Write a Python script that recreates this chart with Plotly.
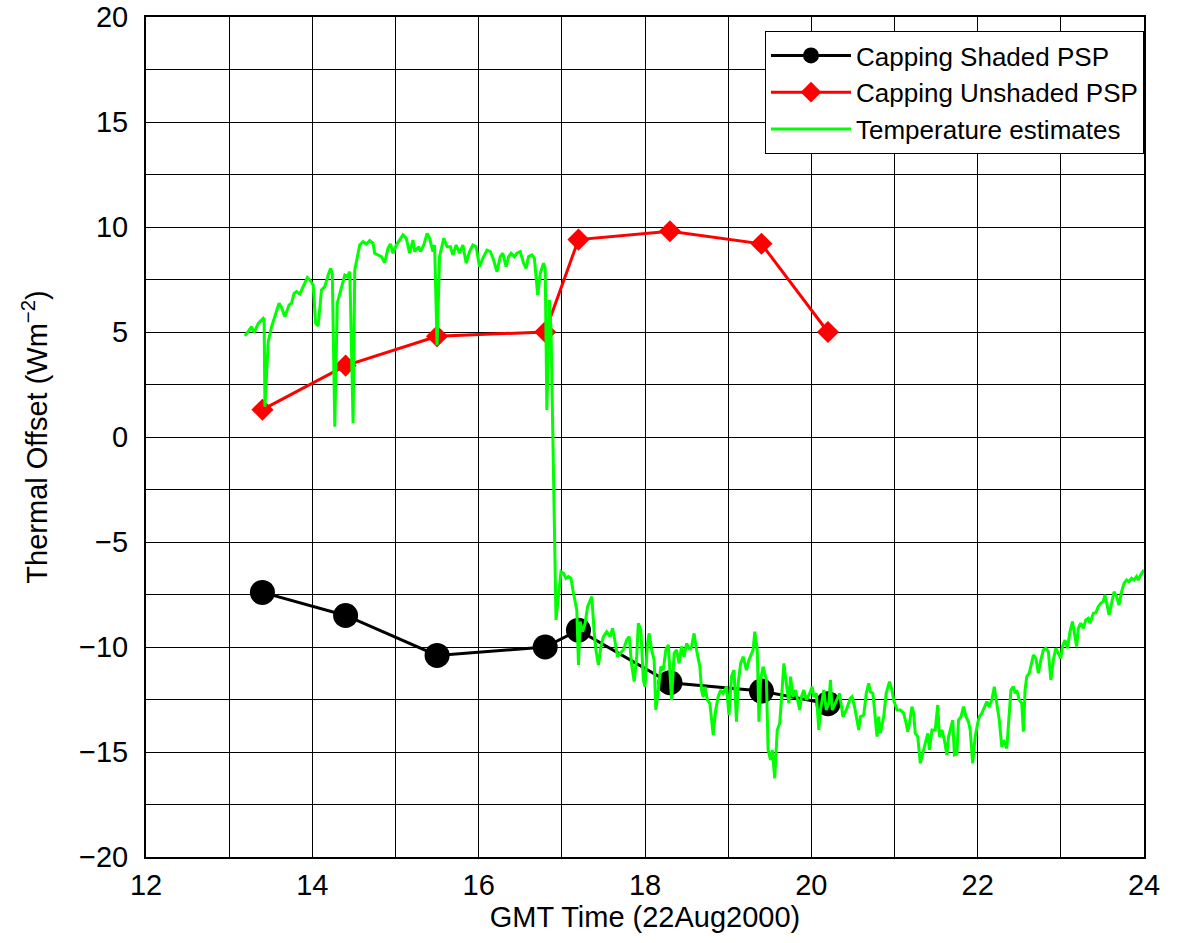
import plotly.graph_objects as go

# Capping events (GMT hours) and the thermal offsets derived at each
cap_time = [13.4, 14.4, 15.5, 16.8, 17.2, 18.3, 19.4, 20.2]
shaded_offset = [-7.4, -8.5, -10.4, -10.0, -9.2, -11.7, -12.1, -12.7]
unshaded_offset = [1.3, 3.4, 4.8, 5.0, 9.4, 9.8, 9.2, 5.0]

# Continuous offset estimated from instrument temperatures
temp_time = [
    13.19, 13.27, 13.30, 13.35, 13.41, 13.42, 13.43, 13.47, 13.51, 13.55,
    13.60, 13.63, 13.67, 13.72, 13.75, 13.78, 13.81, 13.85, 13.89, 13.94,
    13.97, 14.01, 14.04, 14.07, 14.11, 14.15, 14.19, 14.22, 14.24, 14.27,
    14.30, 14.35, 14.39, 14.42, 14.45, 14.46, 14.49, 14.51, 14.57, 14.61,
    14.65, 14.69, 14.73, 14.75, 14.79, 14.83, 14.87, 14.91, 14.94, 14.97,
    15.01, 15.05, 15.09, 15.13, 15.17, 15.21, 15.23, 15.28, 15.30, 15.34,
    15.38, 15.41, 15.45, 15.47, 15.50, 15.53, 15.58, 15.62, 15.66, 15.69,
    15.73, 15.77, 15.81, 15.85, 15.89, 15.93, 15.97, 16.01, 16.05, 16.10,
    16.14, 16.18, 16.22, 16.26, 16.29, 16.33, 16.36, 16.39, 16.43, 16.46,
    16.50, 16.54, 16.57, 16.60, 16.64, 16.67, 16.71, 16.74, 16.78, 16.80,
    16.82, 16.85, 16.87, 16.93, 16.99, 17.02, 17.05, 17.08, 17.11, 17.14,
    17.18, 17.20, 17.22, 17.25, 17.28, 17.31, 17.36, 17.39, 17.41, 17.44,
    17.47, 17.50, 17.54, 17.58, 17.61, 17.64, 17.67, 17.70, 17.74, 17.78,
    17.81, 17.84, 17.87, 17.90, 17.92, 17.95, 17.98, 18.00, 18.03, 18.05,
    18.08, 18.11, 18.13, 18.16, 18.19, 18.22, 18.25, 18.28, 18.30, 18.32,
    18.35, 18.38, 18.41, 18.44, 18.47, 18.50, 18.54, 18.56, 18.59, 18.62,
    18.66, 18.68, 18.70, 18.72, 18.75, 18.78, 18.82, 18.85, 18.88, 18.91,
    18.94, 18.98, 19.01, 19.04, 19.07, 19.10, 19.12, 19.15, 19.18, 19.22,
    19.25, 19.30, 19.32, 19.35, 19.37, 19.39, 19.42, 19.46, 19.48, 19.51,
    19.53, 19.56, 19.59, 19.62, 19.64, 19.67, 19.70, 19.73, 19.75, 19.78,
    19.81, 19.83, 19.86, 19.88, 19.91, 19.94, 19.98, 20.01, 20.03, 20.06,
    20.09, 20.11, 20.15, 20.18, 20.21, 20.23, 20.25, 20.27, 20.31, 20.34,
    20.38, 20.42, 20.47, 20.49, 20.52, 20.55, 20.57, 20.59, 20.63, 20.66,
    20.69, 20.71, 20.74, 20.76, 20.79, 20.81, 20.83, 20.87, 20.90, 20.94,
    20.97, 20.99, 21.03, 21.07, 21.11, 21.14, 21.16, 21.18, 21.21, 21.23,
    21.25, 21.28, 21.31, 21.34, 21.37, 21.40, 21.42, 21.45, 21.49, 21.52,
    21.54, 21.57, 21.60, 21.63, 21.65, 21.67, 21.70, 21.72, 21.75, 21.77,
    21.80, 21.83, 21.86, 21.89, 21.91, 21.94, 21.97, 22.00, 22.02, 22.05,
    22.08, 22.11, 22.14, 22.17, 22.20, 22.23, 22.26, 22.29, 22.31, 22.35,
    22.38, 22.40, 22.43, 22.45, 22.47, 22.50, 22.53, 22.55, 22.57, 22.59,
    22.62, 22.65, 22.67, 22.70, 22.73, 22.76, 22.79, 22.82, 22.85, 22.88,
    22.91, 22.94, 22.97, 23.00, 23.02, 23.05, 23.08, 23.11, 23.14, 23.17,
    23.19, 23.21, 23.24, 23.27, 23.30, 23.33, 23.35, 23.39, 23.42, 23.45,
    23.48, 23.51, 23.53, 23.56, 23.58, 23.61, 23.64, 23.67, 23.70, 23.73,
    23.76, 23.79, 23.82, 23.85, 23.88, 23.91, 23.93, 23.96, 23.98, 24.00,
]
temp_offset = [
    4.81, 5.25, 4.97, 5.41, 5.65, 5.60, 1.44, 4.54, 5.25, 5.73,
    6.37, 6.17, 5.73, 6.29, 6.37, 6.84, 6.92, 6.81, 7.16, 7.59,
    7.48, 7.24, 5.41, 5.29, 7.00, 7.16, 7.71, 8.03, 7.79, 0.49,
    6.37, 7.16, 7.71, 7.63, 7.87, 6.21, 0.65, 7.95, 9.14, 9.30,
    9.19, 9.35, 9.22, 8.75, 8.67, 8.59, 8.30, 8.98, 9.19, 8.75,
    9.14, 9.38, 9.62, 9.46, 8.75, 9.38, 8.83, 9.06, 8.83, 9.14,
    9.70, 9.46, 8.83, 9.14, 4.38, 8.59, 9.46, 9.06, 9.06, 8.67,
    9.14, 8.75, 9.14, 8.27, 8.83, 9.14, 9.06, 8.11, 8.51, 8.90,
    8.83, 8.43, 7.87, 8.59, 8.75, 8.11, 8.59, 8.75, 8.59, 8.75,
    8.83, 8.27, 8.03, 8.59, 8.67, 8.51, 6.76, 7.79, 8.27, 8.03,
    1.29, 6.52, 5.10, -8.71, -6.41, -6.49, -6.73, -6.65, -6.73, -7.44,
    -8.24, -10.86, -8.79, -9.27, -8.87, -8.08, -7.60, -9.35, -10.14, -10.86,
    -9.98, -9.51, -9.27, -9.51, -9.11, -9.75, -10.46, -10.30, -10.14, -9.67,
    -9.51, -10.86, -11.65, -10.46, -8.87, -9.19, -11.57, -11.89, -9.83, -9.35,
    -10.14, -10.62, -13.00, -12.05, -10.94, -11.10, -10.14, -9.90, -11.25, -12.52,
    -10.30, -10.14, -10.78, -9.98, -10.46, -9.83, -10.14, -9.98, -9.35, -10.14,
    -10.94, -12.05, -12.37, -11.89, -12.52, -12.68, -14.19, -13.00, -12.37, -12.05,
    -12.21, -11.89, -13.24, -11.41, -11.10, -13.56, -11.73, -10.78, -10.46, -11.10,
    -10.62, -10.14, -9.27, -10.14, -13.56, -11.57, -10.94, -11.57, -14.90, -15.38,
    -14.90, -16.25, -13.95, -13.63, -12.52, -10.78, -11.73, -12.68, -11.41, -12.37,
    -12.05, -12.37, -13.00, -12.37, -12.05, -12.52, -12.21, -11.89, -12.37, -12.21,
    -13.95, -13.00, -12.05, -13.00, -12.68, -11.57, -13.00, -12.84, -12.52, -12.21,
    -13.32, -13.00, -12.44, -12.37, -12.84, -13.48, -13.95, -13.32, -13.24, -12.21,
    -11.73, -12.13, -12.21, -13.00, -14.27, -13.32, -14.11, -13.32, -12.21, -11.65,
    -12.05, -12.52, -13.00, -13.00, -13.16, -13.63, -14.03, -13.63, -12.84, -13.16,
    -14.11, -14.27, -15.54, -15.06, -14.51, -14.11, -14.90, -13.95, -13.95, -12.76,
    -14.27, -13.95, -14.43, -15.14, -14.27, -13.95, -13.48, -15.14, -15.10, -13.48,
    -13.32, -12.84, -13.32, -13.56, -13.95, -15.54, -14.27, -13.63, -13.32, -13.16,
    -12.84, -12.60, -12.84, -12.52, -11.89, -12.68, -13.48, -14.75, -14.43, -14.83,
    -13.32, -12.05, -11.89, -12.21, -12.05, -12.52, -12.68, -14.03, -12.05, -11.41,
    -11.25, -10.78, -10.38, -10.54, -11.25, -10.62, -10.14, -10.06, -10.22, -11.57,
    -10.62, -10.06, -10.30, -10.54, -9.98, -9.67, -10.06, -9.27, -8.79, -9.51,
    -9.98, -9.11, -8.87, -9.11, -8.71, -8.63, -8.87, -8.40, -8.37, -8.08,
    -7.92, -7.84, -7.52, -8.08, -8.48, -7.92, -7.37, -7.60, -8.00, -7.37,
    -6.97, -6.81, -6.89, -6.73, -6.81, -6.65, -6.81, -6.57, -6.41, -6.33,
]

x_ticks = [12, 14, 16, 18, 20, 22, 24]
y_ticks = [-20, -15, -10, -5, 0, 5, 10, 15, 20]

FONT = "Liberation Sans, Arial, sans-serif"

fig = go.Figure()

fig.add_trace(go.Scatter(
    x=cap_time, y=shaded_offset, name="Capping Shaded PSP",
    mode="lines+markers",
    line=dict(color="black", width=3),
    marker=dict(symbol="circle", size=25, color="black"),
))
fig.add_trace(go.Scatter(
    x=cap_time, y=unshaded_offset, name="Capping Unshaded PSP",
    mode="lines+markers",
    line=dict(color="#ff0000", width=3),
    marker=dict(symbol="diamond", size=17, color="#ff0000"),
))
fig.add_trace(go.Scatter(
    x=temp_time, y=temp_offset, name="Temperature estimates",
    mode="lines",
    line=dict(color="#00ff00", width=3),
))

axis_common = dict(
    showline=True, linecolor="black", linewidth=2, mirror=True,
    ticks="inside", ticklen=10, tickcolor="black", tickwidth=1,
    showgrid=True, gridcolor="black", gridwidth=1,
    zeroline=False,
    tickfont=dict(family=FONT, size=29, color="black"),
)

fig.update_xaxes(
    range=[12, 24], tickvals=x_ticks, ticktext=[str(v) for v in x_ticks],
    minor=dict(dtick=1, tick0=12, showgrid=True, gridcolor="black", gridwidth=1),
    title=dict(text="GMT Time (22Aug2000)", font=dict(family=FONT, size=29, color="black"),
               standoff=4),
    ticklabelstandoff=1,
    **axis_common,
)
fig.update_yaxes(
    range=[-20, 20], tickvals=y_ticks,
    minor=dict(dtick=2.5, tick0=0, showgrid=True, gridcolor="black", gridwidth=1),
    title=dict(text="Thermal Offset (Wm<sup>−2</sup>)", font=dict(family=FONT, size=29, color="black"),
               standoff=23),
    ticklabelstandoff=10,
    **axis_common,
)

fig.update_layout(
    width=1178, height=943,
    margin=dict(l=146, r=34, t=17, b=86, autoexpand=False),
    paper_bgcolor="white", plot_bgcolor="white",
    font=dict(family=FONT, color="black"),
    showlegend=True,
    legend=dict(
        x=1, xanchor="right", y=1 - 14 / 840, yanchor="top",
        bgcolor="white", bordercolor="black", borderwidth=1,
        font=dict(family=FONT, size=26, color="black"),
        tracegroupgap=0, itemwidth=80,
    ),
)

fig.write_html("out.html")
